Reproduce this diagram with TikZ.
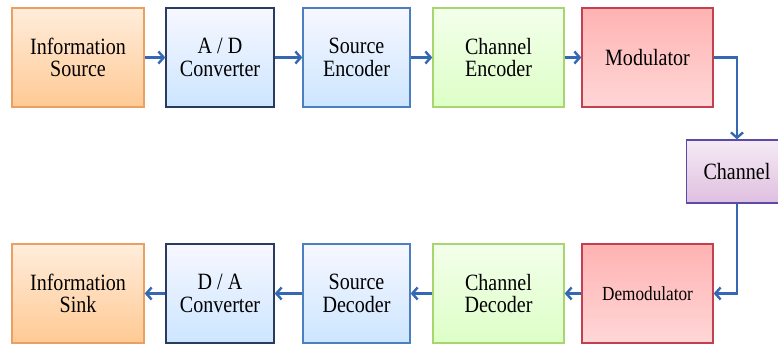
\documentclass[tikz,border=0pt]{standalone}
\usepackage{fontspec}
\setmainfont{Liberation Serif}
\newfontfamily\boxfont[FakeStretch=0.86]{Liberation Serif}
\usetikzlibrary{arrows.meta}

\definecolor{flowblue}{HTML}{3468B2}
\definecolor{orangeline}{HTML}{E9A062}
\definecolor{navyline}{HTML}{2A3B5E}
\definecolor{blueline}{HTML}{4C7FC0}
\definecolor{greenline}{HTML}{A8D66E}
\definecolor{redline}{HTML}{C24050}
\definecolor{violetline}{HTML}{5B4BA8}

\tikzset{
  block/.style={draw, line width=1pt, align=center, inner sep=2pt,
    minimum height=74.25pt, font=\boxfont\fontsize{17.5}{17}\selectfont},
  orangebox/.style={block, draw=orangeline, top color=orange!14, bottom color=orange!42!white},
  navybox/.style={block, draw=navyline, top color=blue!3, bottom color=blue!50!cyan!20},
  bluebox/.style={block, draw=blueline, top color=blue!3, bottom color=blue!50!cyan!20},
  greenbox/.style={block, draw=greenline, top color=green!60!yellow!8, bottom color=green!60!yellow!22},
  redbox/.style={block, draw=redline, top color=red!30, bottom color=red!16},
  violetbox/.style={block, draw=violetline, top color=violet!8, bottom color=violet!25,
    minimum height=47.25pt},
  flow/.style={line width=1.8pt, flowblue, -{Straight Barb[length=4pt,width=9pt]}}
}

\begin{document}
\begin{tikzpicture}[x=0.75pt, y=-0.75pt]
    \useasboundingbox (0,0) rectangle (778,343);

    % top row
    \coordinate (P1) at (78,57.5);
    \coordinate (P2) at (220,57.5);
    \coordinate (P3) at (356.5,57.5);
    \coordinate (P4) at (498.5,57.5);
    \coordinate (P5) at (647.5,57.5);

    % channel
    \coordinate (PC) at (737,171.5);

    % bottom row
    \coordinate (Q1) at (78,293.5);
    \coordinate (Q2) at (220,293.5);
    \coordinate (Q3) at (356.5,293.5);
    \coordinate (Q4) at (498.5,293.5);
    \coordinate (Q5) at (647.5,293.5);

    \node[orangebox, minimum width=99pt] (infosrc) at (P1) {Information\\Source};
    \node[navybox, minimum width=81pt] (adconv) at (P2) {A / D\\Converter};
    \node[bluebox, minimum width=80.25pt] (srcenc) at (P3) {Source\\Encoder};
    \node[greenbox, minimum width=98.25pt] (chenc) at (P4) {Channel\\Encoder};
    \node[redbox, minimum width=98.25pt] (modul) at (P5) {Modulator};

    \node[violetbox, minimum width=75.75pt] (channel) at (PC) {Channel};

    \node[orangebox, minimum width=99pt] (infosink) at (Q1) {Information\\Sink};
    \node[navybox, minimum width=81pt] (daconv) at (Q2) {D / A\\Converter};
    \node[bluebox, minimum width=80.25pt] (srcdec) at (Q3) {Source\\Decoder};
    \node[greenbox, minimum width=98.25pt] (chdec) at (Q4) {Channel\\Decoder};
    \node[redbox, minimum width=98.25pt, font=\boxfont\fontsize{15}{15}\selectfont] (demod) at (Q5) {Demodulator};

    \draw[flow] (infosrc) -- (adconv);
    \draw[flow] (adconv) -- (srcenc);
    \draw[flow] (srcenc) -- (chenc);
    \draw[flow] (chenc) -- (modul);
    \draw[flow] (modul.east) -| (channel.north);
    \draw[flow] (channel.south) |- (demod.east);
    \draw[flow] (demod) -- (chdec);
    \draw[flow] (chdec) -- (srcdec);
    \draw[flow] (srcdec) -- (daconv);
    \draw[flow] (daconv) -- (infosink);
\end{tikzpicture}
\end{document}
